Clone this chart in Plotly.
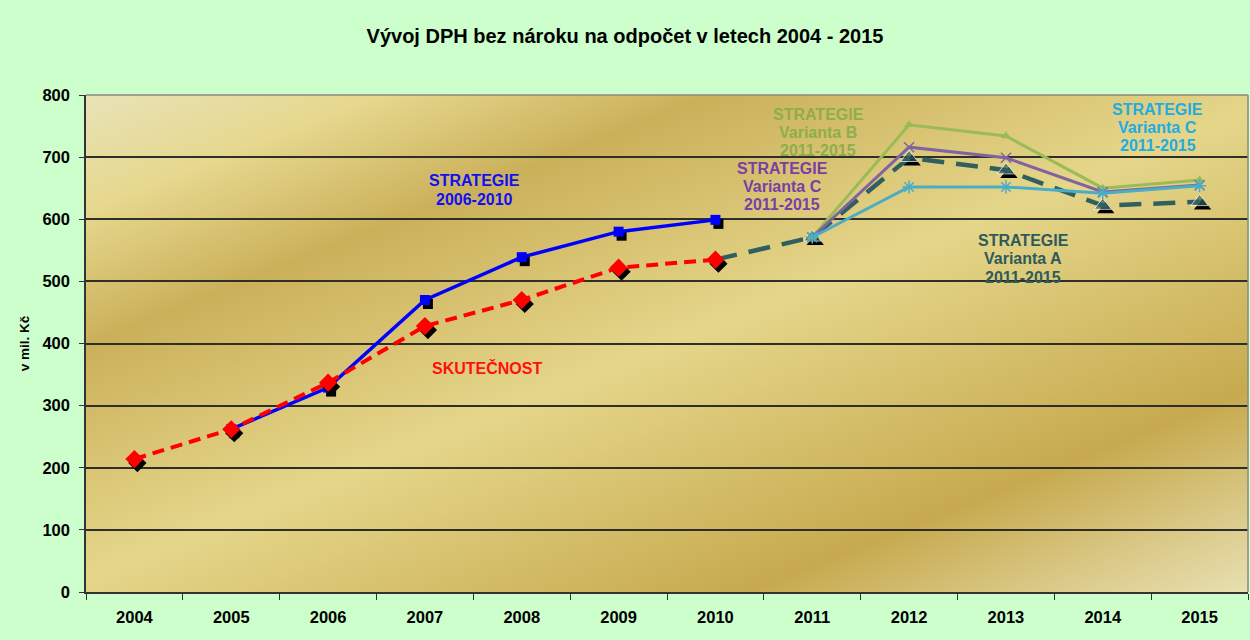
import base64
import plotly.graph_objects as go

# ---------------- data ----------------
years = ["2004", "2005", "2006", "2007", "2008", "2009", "2010",
         "2011", "2012", "2013", "2014", "2015"]
skutecnost = [214, 262, 337, 428, 470, 522, 535, None, None, None, None, None]
strategie_2006_2010 = [None, 262, 329, 470, 539, 580, 599, None, None, None, None, None]
varianta_a = [None, None, None, None, None, None, 535, 571, 699, 679, 622, 628]
varianta_b = [None, None, None, None, None, None, None, 571, 752, 734, 650, 663]
varianta_c_fialova = [None, None, None, None, None, None, None, 571, 716, 699, 644, 655]
varianta_c_modra = [None, None, None, None, None, None, None, 571, 652, 652, 642, 654]
y_ticks = [0, 100, 200, 300, 400, 500, 600, 700, 800]

title_text = "Vývoj DPH bez nároku na odpočet v letech 2004 - 2015"
y_title = "v mil. Kč"

xi = list(range(len(years)))

# ---------------- layout geometry ----------------
W, H = 1250, 640
ML, MR, MT, MB = 86, 2, 95, 48
PW, PH = W - ML - MR, H - MT - MB

# shadow offsets (pixels -> data units)
dx = 3.0 / (PW / len(years))
dy = 4.0 / (PH / 800.0)


def shadow(vals):
    xs, ys = [], []
    for i, v in zip(xi, vals):
        if v is not None:
            xs.append(i + dx)
            ys.append(v - dy)
    return xs, ys


# ---------------- gradient background (gold) ----------------
svg = f'''<svg xmlns="http://www.w3.org/2000/svg" width="{PW}" height="{PH}" viewBox="0 0 {PW} {PH}" preserveAspectRatio="none">
<defs><linearGradient id="g" gradientUnits="userSpaceOnUse" x1="0" y1="0" x2="332" y2="830">
<stop offset="0" stop-color="#E8E2B8"/>
<stop offset="0.12" stop-color="#E6D88E"/>
<stop offset="0.26" stop-color="#CBB05A"/>
<stop offset="0.50" stop-color="#E5D68A"/>
<stop offset="0.79" stop-color="#C7AA4F"/>
<stop offset="1" stop-color="#E8E0B2"/>
</linearGradient></defs>
<rect x="0" y="0" width="{PW}" height="{PH}" fill="url(#g)"/>
</svg>'''
svg_uri = "data:image/svg+xml;base64," + base64.b64encode(svg.encode()).decode()

fig = go.Figure()

TEAL = "#2F5F5F"
RED = "#FF0000"
BLUE = "#0000FF"
GREEN = "#9BBB59"
PURPLE = "#8064A2"
LBLUE = "#4BACC6"

# Varianta A (teal dashed, triangles)
sx, sy = shadow(varianta_a)
fig.add_trace(go.Scatter(x=sx[1:], y=sy[1:], mode="markers",
                         marker=dict(symbol="triangle-up", size=15, color="black"),
                         hoverinfo="skip"))
fig.add_trace(go.Scatter(x=xi, y=varianta_a, mode="lines+markers", name="STRATEGIE Varianta A",
                         line=dict(color=TEAL, width=4.5, dash="22px,12px"),
                         marker=dict(symbol="triangle-up", size=[0] * 7 + [15] * 5, color=TEAL)))

# Strategie 2006-2010 (blue)
sx, sy = shadow(strategie_2006_2010)
fig.add_trace(go.Scatter(x=sx, y=sy, mode="markers",
                         marker=dict(symbol="square", size=10, color="black"),
                         hoverinfo="skip"))
fig.add_trace(go.Scatter(x=xi, y=strategie_2006_2010, mode="lines+markers", name="STRATEGIE 2006-2010",
                         line=dict(color=BLUE, width=3.5),
                         marker=dict(symbol="square", size=10, color=BLUE)))

# Skutečnost (red dashed)
sx, sy = shadow(skutecnost)
fig.add_trace(go.Scatter(x=sx, y=sy, mode="markers",
                         marker=dict(symbol="diamond", size=14, color="black"),
                         hoverinfo="skip"))
fig.add_trace(go.Scatter(x=xi, y=skutecnost, mode="lines+markers", name="SKUTEČNOST",
                         line=dict(color=RED, width=4, dash="12px,7px"),
                         marker=dict(symbol="diamond", size=14, color=RED)))

# Varianta B (green)
fig.add_trace(go.Scatter(x=xi, y=varianta_b, mode="lines+markers", name="STRATEGIE Varianta B",
                         line=dict(color=GREEN, width=3),
                         marker=dict(symbol="triangle-up", size=9, color=GREEN)))
# Varianta C (purple)
fig.add_trace(go.Scatter(x=xi, y=varianta_c_fialova, mode="lines+markers", name="STRATEGIE Varianta C",
                         line=dict(color=PURPLE, width=3),
                         marker=dict(symbol="x-thin-open", size=10, color=PURPLE,
                                     line=dict(color=PURPLE, width=1.5))))
# Varianta C (light blue)
fig.add_trace(go.Scatter(x=xi, y=varianta_c_modra, mode="lines+markers", name="STRATEGIE Varianta C",
                         line=dict(color=LBLUE, width=3),
                         marker=dict(symbol="asterisk-open", size=11, color=LBLUE,
                                     line=dict(color=LBLUE, width=1.5))))

FONT = "Liberation Sans, Arial, sans-serif"


def label(lines, x, ys, color, size=16):
    # one annotation per text line (tight Excel-like line spacing)
    for text, y in zip(lines, ys):
        fig.add_annotation(x=x, y=y, xref="x", yref="y", text=f"<b>{text}</b>",
                           showarrow=False, xanchor="center", yanchor="middle",
                           font=dict(family=FONT, size=size, color=color), align="center")


label(["STRATEGIE", "2006-2010"], 3.51, [662, 632], "#1010F0")
label(["SKUTEČNOST"], 3.64, [361], "#FF1010")
label(["STRATEGIE", "Varianta B", "2011-2015"], 7.06, [768, 739.5, 711], "#8DAE4C")
label(["STRATEGIE", "Varianta C", "2011-2015"], 6.69, [681.5, 652, 623], "#7A3FA6")
label(["STRATEGIE", "Varianta A", "2011-2015"], 9.18, [566.5, 537, 507], "#2F5A5C")
label(["STRATEGIE", "Varianta C", "2011-2015"], 10.57, [776, 747, 718.5], "#22ACE0")

fig.add_layout_image(dict(source=svg_uri, xref="paper", yref="paper", x=0, y=1,
                          sizex=1, sizey=1, sizing="stretch", layer="below",
                          xanchor="left", yanchor="top"))

fig.update_layout(
    width=W, height=H,
    margin=dict(l=ML, r=MR, t=MT, b=MB),
    paper_bgcolor="#CCFFCC",
    plot_bgcolor="rgba(0,0,0,0)",
    showlegend=False,
    title=dict(text=f"<b>{title_text}</b>", x=0.5, xanchor="center",
               y=1 - 36 / H, yanchor="middle",
               font=dict(family=FONT, size=20, color="black")),
    font=dict(family=FONT, color="black"),
    xaxis=dict(
        range=[-0.5, len(years) - 0.5],
        tickmode="array", tickvals=xi, ticktext=years,
        ticks="outside", ticklen=9, tickcolor="rgba(0,0,0,0)",
        tickfont=dict(family=FONT, size=16.5, color="black", weight="bold"),
        showgrid=False, zeroline=False,
        showline=True, linecolor="#333333", linewidth=1.5,
        minor=dict(tickmode="linear", tick0=-0.5, dtick=1, ticks="outside",
                   ticklen=6, tickcolor="#333333", tickwidth=1, showgrid=False),
        fixedrange=True,
    ),
    yaxis=dict(
        range=[0, 800], tickmode="array", tickvals=y_ticks,
        ticks="outside", ticklen=5, tickcolor="#333333",
        tickfont=dict(family=FONT, size=16.5, color="black", weight="bold"),
        ticklabelstandoff=6,
        showgrid=True, gridcolor="#2E2E2A", gridwidth=1.5,
        zeroline=False,
        showline=True, linecolor="#333333", linewidth=1.5,
        title=dict(text=f"<b>{y_title}</b>", standoff=10,
                   font=dict(family=FONT, size=13.5, color="black")),
        fixedrange=True,
    ),
)

# light frame on top/right of the plot area
fig.add_shape(type="line", xref="paper", yref="paper", x0=0, x1=1, y0=1, y1=1,
              line=dict(color="#8A8A80", width=1.5))
fig.add_shape(type="line", xref="paper", yref="paper", x0=1, x1=1, y0=0, y1=1,
              line=dict(color="#8A8A80", width=1.5))

fig.write_html("out.html", config={"displayModeBar": False},
               post_script="document.body.style.margin='0';document.body.style.overflow='hidden';")
